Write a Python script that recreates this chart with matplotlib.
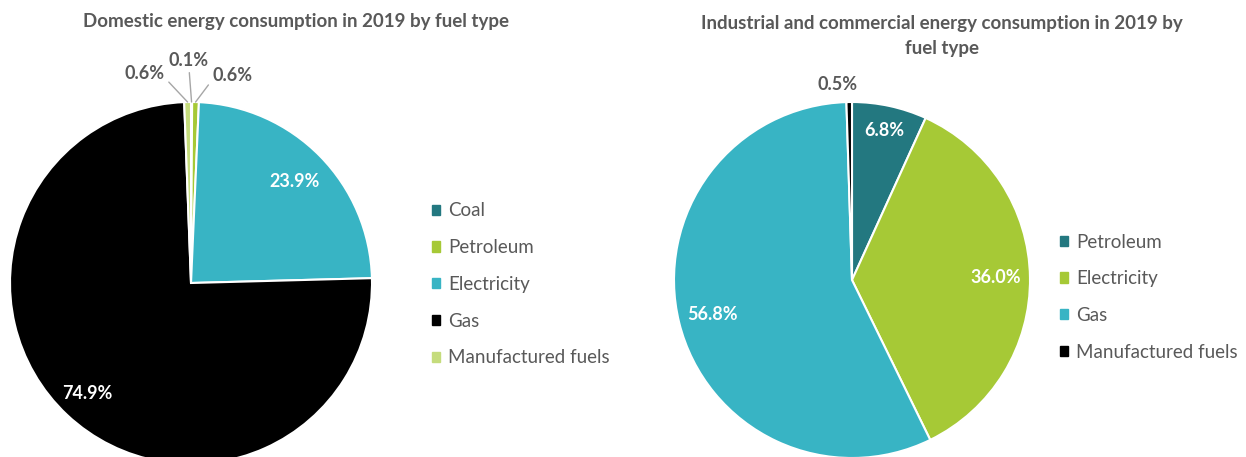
import matplotlib
matplotlib.use("Agg")
import matplotlib.pyplot as plt
from matplotlib.patches import Patch
import numpy as np

plt.rcParams['font.family'] = ['Lato', 'DejaVu Sans']

# domestic consumption, 2019 (% share)
dom_fuels = ['Coal', 'Petroleum', 'Electricity', 'Gas', 'Manufactured fuels']
dom_share = [0.1, 0.6, 23.9, 74.9, 0.6]

# industrial & commercial consumption, 2019 (% share)
ind_fuels = ['Petroleum', 'Electricity', 'Gas', 'Manufactured fuels']
ind_share = [6.8, 36.0, 56.8, 0.5]

fuel_colours = {
    'Coal': '#237880',
    'Petroleum': '#a6c936',
    'Electricity': '#38b4c4',
    'Gas': '#000000',
    'Manufactured fuels': '#c5dc7c',
}
ind_colours = ['#237880', '#a6c936', '#38b4c4', '#000000']

TXT = '#595959'
W, H = 1246, 457
LBL = 13      # slice labels
LEG = 13.5    # legend entries
TTL = 13.5    # titles


def pie_axes(fig, cx, cy, r):
    # place a square axes so the unit pie lands at pixel centre (cx, cy)
    ax = fig.add_axes([(cx - r) / W, (H - cy - r) / H, 2 * r / W, 2 * r / H])
    return ax


def mid_angles(vals):
    # matplotlib angles (deg) of each wedge middle, clockwise from 12 o'clock
    v = np.asarray(vals, dtype=float)
    frac = v / v.sum()
    ends = np.cumsum(frac)
    mids = ends - frac / 2
    return 90 - mids * 360


def add_legend(fig, colours, labels, x, y):
    return fig.legend(handles=[Patch(color=c) for c in colours], labels=labels,
                      loc='upper left', bbox_to_anchor=(x / W, 1 - y / H),
                      frameon=False, fontsize=LEG, labelcolor=TXT,
                      handlelength=0.45, handleheight=0.45, handletextpad=0.45,
                      labelspacing=1.05, borderaxespad=0)


fig = plt.figure(figsize=(W / 100, H / 100), dpi=100)

# ---- domestic ----
ax1 = pie_axes(fig, 191, 283, 181)
ax1.pie(dom_share, colors=[fuel_colours[f] for f in dom_fuels], startangle=90,
        counterclock=False, wedgeprops=dict(edgecolor='white', linewidth=1.5))
ax1.set_xlim(-1, 1)
ax1.set_ylim(-1, 1)
ax1.axis('off')

ang1 = np.radians(mid_angles(dom_share))
# big slices get labels inside
for i, r in [(2, 0.80), (3, 0.84)]:
    ax1.text(r * np.cos(ang1[i]), r * np.sin(ang1[i]), f'{dom_share[i]:.1f}%',
             ha='center', va='center', color='white', fontsize=LBL, fontweight='bold')
# tiny slices get leader lines
outside = {4: ((-0.254, 1.16), (1, 0.2)),
           0: ((-0.011, 1.232), (0.5, 0.0)),
           1: ((0.227, 1.149), (0, 0.2))}
for i, (pos, rel) in outside.items():
    ax1.annotate(f'{dom_share[i]:.1f}%', xy=(np.cos(ang1[i]), np.sin(ang1[i])),
                 xytext=pos, ha='center', va='center', color=TXT, fontsize=LBL,
                 fontweight='bold', annotation_clip=False,
                 arrowprops=dict(arrowstyle='-', color='#a6a6a6', lw=1,
                                 relpos=rel, shrinkA=1, shrinkB=0))

fig.text(296 / W, 1 - 22 / H, 'Domestic energy consumption in 2019 by fuel type',
         ha='center', va='center', color=TXT, fontsize=TTL, fontweight='bold')

add_legend(fig, [fuel_colours[f] for f in dom_fuels], dom_fuels, 424, 195)

# ---- industrial & commercial ----
ax2 = pie_axes(fig, 852, 280, 178)
ax2.pie(ind_share, colors=ind_colours, startangle=90, counterclock=False,
        wedgeprops=dict(edgecolor='white', linewidth=1.5))
ax2.set_xlim(-1, 1)
ax2.set_ylim(-1, 1)
ax2.axis('off')

ang2 = np.radians(mid_angles(ind_share))
for i, r in [(0, 0.86), (1, 0.81), (2, 0.81)]:
    ax2.text(r * np.cos(ang2[i]), r * np.sin(ang2[i]), f'{ind_share[i]:.1f}%',
             ha='center', va='center', color='white', fontsize=LBL, fontweight='bold')
ax2.text(-0.079, 1.10, f'{ind_share[3]:.1f}%', ha='center', va='center',
         color=TXT, fontsize=LBL, fontweight='bold')

fig.text(942 / W, 1 - 36 / H,
         'Industrial and commercial energy consumption in 2019 by\nfuel type',
         ha='center', va='center', color=TXT, fontsize=TTL, fontweight='bold',
         linespacing=1.6)

add_legend(fig, ind_colours, ind_fuels, 1052, 226)

fig.savefig('out.png', dpi=100)
